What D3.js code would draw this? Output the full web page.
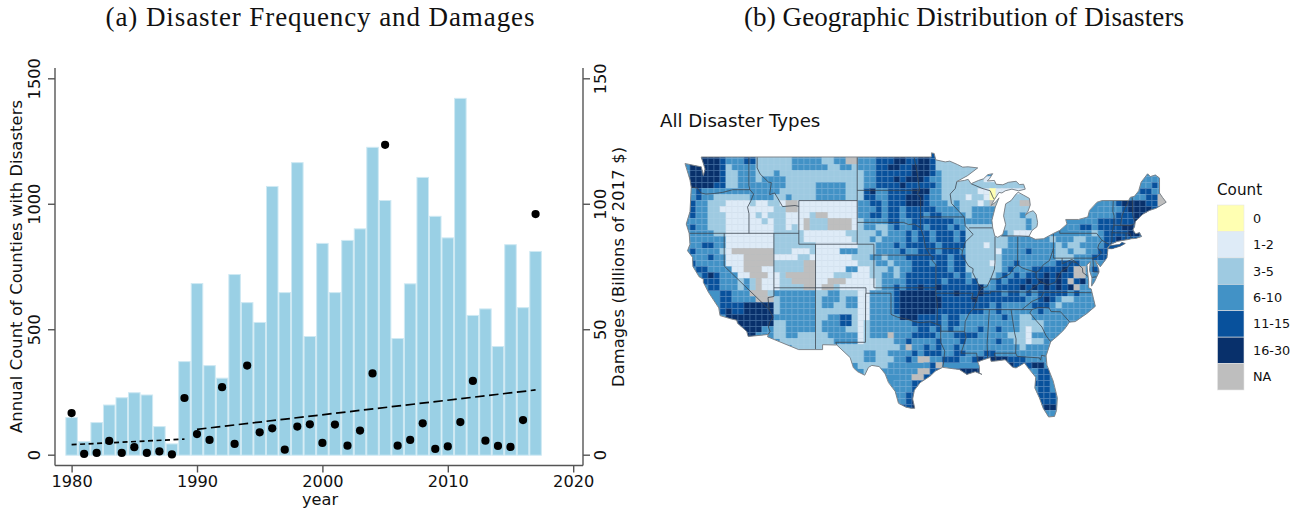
<!DOCTYPE html>
<html><head><meta charset="utf-8">
<script src="https://cdnjs.cloudflare.com/ajax/libs/d3/7.8.5/d3.min.js"></script>
<style>html,body{margin:0;background:#fff}svg{display:block}text{font-family:"DejaVu Sans",sans-serif;fill:#111}</style>
</head><body><svg id="c" width="1302" height="514"></svg>
<script>
const years=d3.range(1980,2018);
const counties=[148,52,128,198,227,247,238,112,43,371,682,355,305,718,606,527,1069,646,1164,471,842,646,854,900,1225,1013,463,681,1105,950,864,1420,555,581,431,837,586,810];
const damages=[16.6,0.3,0.7,5.5,0.7,3,0.7,1.3,0.1,22.6,8.2,5.9,26.9,4.3,35.5,8.9,10.5,2,11.2,12.1,4.7,12,3.6,9.6,32.4,123.5,3.6,5.9,12.5,2.3,3.3,13,29.4,5.6,3.5,3.1,13.8,95.9];
const trendEarly=[[1980,4],[1989,6.2]];
const trendLate=[[1990,10.1],[2017,25.8]];
const xTicks=[1980,1990,2000,2010,2020];
const countTicks=[0,500,1000,1500];
const damageTicks=[0,50,100,150];
const legendLabels=["0","1-2","3-5","6-10","11-15","16-30","NA"];
const legendKeys=["0","1","2","3","4","5","N"];
const legendColors=["#FFFFB2","#DEEBF7","#9ECAE1","#4292C6","#08519C","#08306B","#BEBEBE"];

// Lon/lat outline of the lower 48
const outline=[[-124.7,48.4],[-123.1,48.15],[-122.75,48.1],[-122.5,47.3],[-122.3,47.9],[-122.5,48.4],[-122.76,49],[-95.15,49],[-95.15,49.38],[-94.82,49.32],[-94.64,48.74],[-93.5,48.55],[-92.95,48.62],[-92,48.3],[-91.4,48.07],[-90.75,48.1],[-89.6,48],[-90.8,47.3],[-92.1,46.75],[-91.2,46.85],[-90.75,46.95],[-90.4,46.55],[-89.5,46.85],[-88.9,47],[-88.4,47.38],[-87.8,47.47],[-88.2,47],[-88.45,46.8],[-87.6,46.85],[-87.4,46.5],[-86.6,46.45],[-85.9,46.68],[-85,46.77],[-84.6,46.47],[-84.1,46.5],[-83.9,46.05],[-84.7,45.9],[-85.5,46.05],[-86.3,45.9],[-86.7,45.7],[-87.05,45.75],[-87.6,45.1],[-88,44.55],[-87.4,44.9],[-87.05,45.25],[-87.5,44.4],[-87.9,43.2],[-87.8,42.5],[-87.55,41.75],[-87.2,41.63],[-86.6,41.9],[-86.25,42.8],[-86.5,43.6],[-86.25,44.7],[-85.6,45],[-85,45.6],[-84.75,45.77],[-84.1,45.5],[-83.4,45.2],[-83.3,44.6],[-83.55,44.05],[-83.9,43.65],[-83.4,43.95],[-82.95,44.07],[-82.6,43.75],[-82.42,43],[-82.5,42.6],[-83.1,42.25],[-83.45,41.72],[-82.7,41.45],[-81.7,41.5],[-80.5,42],[-79.76,42.27],[-78.9,42.85],[-79.05,43.27],[-77.5,43.27],[-76.4,43.5],[-76.2,44.1],[-75.3,44.85],[-74.7,45],[-71.5,45.01],[-71.3,45.3],[-70.8,45.4],[-70.3,45.9],[-70,46.7],[-69.23,47.46],[-68.9,47.2],[-68.3,47.35],[-67.8,47.07],[-67.8,45.7],[-67.45,45.3],[-67,44.85],[-68.2,44.3],[-69,44.1],[-69.8,43.75],[-70.7,43.07],[-70.8,42.6],[-71,42.3],[-70.65,41.95],[-70.2,42.07],[-69.95,41.7],[-70.65,41.53],[-71.2,41.5],[-71.4,41.45],[-72.9,41.25],[-73.65,40.98],[-74,40.7],[-74,40.45],[-74.1,39.75],[-74.9,38.93],[-75.5,39.5],[-75.1,38.75],[-75.05,38.45],[-75.6,37.55],[-75.95,37.15],[-75.9,37.9],[-76.2,38.6],[-76.1,39.4],[-76.5,39.1],[-76.4,38.3],[-76.3,37.6],[-76.3,37],[-76,36.9],[-75.5,35.3],[-76.5,34.65],[-77.9,33.9],[-78.6,33.85],[-79.2,33.2],[-80,32.6],[-80.85,32.05],[-81.4,30.75],[-81.3,29.9],[-80.55,28.45],[-80.05,26.9],[-80.15,25.75],[-80.4,25.2],[-81.1,25.15],[-81.75,25.95],[-82.2,26.9],[-82.75,27.8],[-82.65,28.8],[-83.4,29.5],[-84,30.1],[-85,29.65],[-85.4,29.7],[-86.3,30.4],[-87.5,30.28],[-88,30.25],[-88.1,30.6],[-88.9,30.4],[-89.6,30.2],[-89.4,29.8],[-89.4,29.2],[-89.1,29.05],[-89.9,29.3],[-90.9,29.05],[-91.8,29.5],[-92.3,29.55],[-93.8,29.7],[-94.7,29.35],[-95.3,28.9],[-96.5,28.3],[-97.2,27.6],[-97.4,26.8],[-97.15,25.95],[-97.6,25.95],[-98.2,26.05],[-99.1,26.4],[-99.5,27.5],[-100.3,28.3],[-100.7,29.1],[-101.4,29.77],[-102.3,29.88],[-102.7,29.7],[-103.15,28.98],[-104,29.3],[-104.5,29.65],[-104.9,30.6],[-106.5,31.75],[-108.2,31.78],[-108.2,31.33],[-111.07,31.33],[-114.8,32.5],[-114.72,32.72],[-117.12,32.53],[-117.3,33],[-118.4,33.75],[-118.5,34.03],[-119.2,34.15],[-120.5,34.45],[-120.65,35.15],[-121.9,36.6],[-122.5,37.5],[-122.5,37.8],[-123,38],[-123.75,38.95],[-123.8,39.8],[-124.4,40.4],[-124.1,41],[-124.2,42],[-124.55,42.85],[-124.1,44],[-123.95,46.2],[-124.1,46.9],[-124.7,48.4]];
const longIsland=[[-74,40.6],[-73.7,40.87],[-72.6,40.98],[-72.3,41.15],[-71.9,41.07],[-72.5,40.82],[-73.5,40.58]];
const stateBorders=[
[[-124,46.25],[-123.2,46.15],[-122.8,45.7],[-122.2,45.6],[-121.2,45.65],[-120.2,45.75],[-119.3,45.93],[-119,46],[-116.92,46]],
[[-117.04,49],[-117.04,46.4],[-116.92,46],[-116.47,45.6],[-116.85,44.9],[-117.2,44.4],[-117.03,43.8],[-117.03,42]],
[[-116.05,49],[-116.05,48],[-115.7,47.45],[-114.7,46.7],[-114.35,46.65],[-114.55,45.55],[-113.95,45.7],[-113.45,45.05],[-113,44.45],[-111.5,44.55],[-111.05,44.47]],
[[-111.05,45],[-104.05,45]],[[-111.05,45],[-111.05,41],[-109.05,41]],[[-124.2,42],[-111.05,42]],
[[-114.04,42],[-114.04,36.2],[-114.75,36.1],[-114.6,35],[-114.15,34.3],[-114.5,33.9],[-114.7,33.4],[-114.5,33],[-114.72,32.72]],
[[-120,42],[-120,39],[-114.6,35]],[[-114.04,37],[-103,37]],[[-109.05,41],[-109.05,31.33]],[[-109.05,41],[-102.05,41]],[[-104.05,49],[-104.05,41]],
[[-102.05,41],[-102.05,37]],[[-102.05,40],[-95.3,40]],[[-102.05,37],[-94.62,37]],[[-103,37],[-103,36.5],[-100,36.5],[-100,34.56],[-99.2,34.3],[-98.1,34.13],[-97.2,33.9],[-96.5,33.8],[-95.3,33.88],[-94.48,33.64]],
[[-103.04,36.5],[-103.06,32],[-106.62,32],[-106.5,31.75]],[[-104.05,45.94],[-96.56,45.94]],[[-104.05,43],[-98.5,43],[-97.9,42.8],[-97.2,42.85],[-96.45,42.49]],
[[-97.23,49],[-96.85,47.5],[-96.56,45.94],[-96.85,45.6],[-96.45,45.3],[-96.45,42.49],[-96.1,41.7],[-95.85,40.7],[-95.77,40.58],[-95.3,40],[-94.9,39.8],[-95.1,39.55],[-94.61,39.1],[-94.62,36.5],[-94.43,35.4],[-94.48,33.64],[-94.04,33.55],[-94.04,31.99],[-93.55,31.2],[-93.7,30.1],[-93.8,29.7]],
[[-96.45,43.5],[-91.22,43.5]],[[-95.77,40.58],[-91.73,40.6],[-91.42,40.38]],[[-94.62,36.5],[-90.15,36.5],[-90.35,36],[-89.7,36]],[[-94.04,33.02],[-91.17,33]],
[[-91.17,33],[-91,32.4],[-91.6,31],[-89.73,31],[-89.6,30.2]],
[[-92.1,46.75],[-92.3,46.1],[-92.9,45.6],[-92.75,44.75],[-91.22,43.5],[-91.1,42.7],[-90.15,41.9],[-91.1,41.2],[-91.42,40.38],[-91.5,40],[-90.7,39],[-90.15,38.75],[-90.2,38.4],[-89.5,37.3],[-89.13,37],[-89.5,36.5],[-89.7,36],[-90.1,35.1],[-90.6,34.7],[-91.1,33.9],[-91.17,33]],
[[-90.64,42.5],[-87.8,42.5]],[[-90.4,46.55],[-89.1,46.13],[-88.1,45.9],[-87.8,45.35],[-87.6,45.1]],[[-87.53,41.7],[-87.53,39.3],[-87.6,38.7],[-88.05,37.8]],
[[-89.13,37],[-88.5,37.1],[-88.05,37.8],[-87.1,37.8],[-86.5,38],[-85.75,38.27],[-85.4,38.7],[-84.82,39.1],[-84.2,38.8],[-83.6,38.65],[-82.6,38.42],[-82.2,38.6],[-81.75,39.1],[-81,39.5],[-80.6,40.4],[-80.52,40.64]],
[[-84.82,39.1],[-84.8,41.7]],[[-86.8,41.76],[-84.8,41.76],[-83.45,41.72]],[[-80.52,41.98],[-80.52,39.72],[-75.79,39.72]],[[-79.76,42.27],[-79.76,42],[-75.35,42],[-74.7,41.36],[-75.1,40.95],[-75.2,40.65],[-74.75,40.2],[-75.4,39.8]],
[[-74.7,41.36],[-73.9,41]],[[-73.65,41],[-73.5,41.3],[-73.5,42.05],[-73.27,42.75],[-73.25,43.6],[-73.4,44],[-73.35,45]],[[-73.5,42.05],[-71.38,42.02],[-71.15,41.5]],[[-71.8,42.02],[-71.85,41.32]],
[[-73.27,42.75],[-71.3,42.7],[-70.82,42.87]],[[-72.46,42.73],[-72.3,43.6],[-72.05,44.1],[-71.5,45.01]],[[-71.08,45.3],[-71,43.6],[-70.7,43.07]],
[[-75.79,39.72],[-75.4,39.8]],[[-75.79,39.72],[-75.7,38.46],[-75.05,38.45]],[[-75.9,37.95],[-75.25,38.03]],
[[-76.3,38],[-77,38.4],[-77.04,38.8],[-77.5,39.1],[-77.75,39.3],[-78.3,39.6],[-79.48,39.2],[-79.48,39.72]],[[-77.75,39.3],[-78.35,39.4],[-78.9,38.8],[-79.6,38.5],[-80.3,37.5],[-81.2,37.25],[-81.97,37.54]],
[[-82.6,38.42],[-82.6,37.9],[-81.97,37.54],[-83.68,36.6]],[[-75.87,36.55],[-81.68,36.59],[-83.68,36.6],[-88.07,36.65],[-88.07,36.5],[-89.5,36.5]],
[[-81.68,36.59],[-82,36.1],[-83.1,35.75],[-84.32,34.99]],[[-90.1,35],[-83.1,35]],[[-83.1,35],[-82.3,35.2],[-81.05,35.15],[-80.8,34.82],[-79.67,34.8],[-78.55,33.85]],
[[-83.1,35],[-83.35,34.7],[-82.6,34],[-81.9,33.4],[-81.4,32.6],[-80.85,32.05]],[[-85.6,35],[-85.18,32.87],[-85,32.3],[-85.05,31],[-84.86,30.7],[-82.2,30.57],[-82.05,30.36],[-81.95,30.8],[-81.45,30.72]],
[[-87.6,31],[-85,31]],[[-87.6,31],[-87.45,30.35]],[[-88.2,35],[-88.47,31.9],[-88.4,30.25]]
];

// Count class per grid cell. Each block holds ten cells; N is no data.
const gridRows=[
"..55554333 4422222233 3332233NN3 3344455445 5422222222",
"..55554333 4422222233 3332233NN3 3344455445 5422222222",
".555554233 3322222233 3333223323 3344554455 5422222222",
"3555554223 3322232222 2222222222 3344444455 5432222222 .......... .......... .......333",
"5555554223 3323333222 2222222222 3344454555 4332222222 1122222222 .......... .......333",
"4555544223 3333333222 2233333222 3344445444 4432222222 2222222222 .......... ......3343",
"3343333333 3333332222 2233333222 4533444455 5332222221 1011111122 .......... ......4433",
"3343322222 2333322322 2233333222 4433444555 4332222122 1011222222 .......... .....3344N N",
"3433222111 1211221NN1 1111111113 3443444555 4333232221 2N2222NNN2 .......... 334555544N N",
"3433221111 1111122NN1 1111111113 3343443444 4433332233 3332222222 .........3 3334555544",
"3433222111 1121222111 12NN111113 3443443444 3443333233 3332223222 .......333 3344455544",
"3333222111 1112122111 N222NNNN12 3333443344 4444433333 3322222322 .......334 4444455443",
"3433222111 1111122121 N222NNNN12 3322343344 3444343222 2222222322 22..334434 4445544443",
"3333322111 1111122222 1111111222 2232333434 4344434222 2223211122 2.....3323 4444554443",
"3333333111 1111122222 1111111122 2323333434 4344434222 2222333333 3233322333 4454443...",
"3334433111 1111122222 2211111112 2233343444 4434444222 1222333333 3323223333 44544.....",
"34333321NN NNNNN22211 1211113332 2233334334 4434443222 2213333433 3322322334 454.......",
"3333433111 NNNNN11112 2111111122 2332333444 4444344222 2223333333 3322233344 444.......",
".433333111 NNNNN22222 NN11111112 2233233344 4344344222 2123343333 3344443333 43........",
"..44333311 NNN1122222 NN11111331 1222323344 4444344222 2223433344 44454NN344 33........",
"...4543331 1NNN112NNN NN11122211 1223323444 4444434322 2234343444 54544NN334 43........",
"...4443332 32N11122NN NN11NNN111 1123333444 4443444342 2343444545 5454N45334 3.........",
"....443332 32N1112222 NN1NN21111 1123343445 4454444445 3344445454 54545N3334 33........",
"......4433 3NNN233333 3322332221 1333345555 5544454445 4443443434 4444343333 3.........",
"......4433 33NNN23333 3323332331 1333345555 5554444454 4444444334 5432233333 33333.....",
"......4444 5555523333 3323322331 1333345555 5554444444 4343333344 4323333333 33333333..",
"......4544 5555523333 3322222221 1333345555 5544444444 3343333334 3333333333 33333.....",
".......555 5555533333 3322334421 1333335554 4443443333 3334332233 3333333333",
"........55 5555522333 3323334421 2333333344 4443443333 3333332222 3333333333",
".........5 5553322333 3323333221 2333333334 4343433334 3343332122 3333333...",
".......... 5533322332 2222333331 2333N33344 4433344443 3333222133 33334.....",
".......... ......2222 2222233331 2222233433 3343334333 3343322122 3323......",
".......... ........22 2222222222 2222223N33 4343343333 3333332333 333.......",
".......... .......... ......2222 3322333343 4443344333 4433333333 33........",
".......... .......... .......222 332223343N N334443345 4555444333 3.........",
".......... .......... .........2 2222333 34N N444544455 ......4334 3.........",
".......... .......... .......... 223333333N N444445555 ........34 4.........",
".......... .......... .......... ......33NN 44....5555 ........34 4.........",
".......... .......... .......... .....33344 .......... ........44 4.........",
".......... .......... .......... .....33345 .......... ........34 4.........",
".......... .......... .......... .....33445 .......... ........34 44........",
".......... .......... .......... ......3455 .......... .........4 44........",
".......... .......... .......... ......4455 .......... .........4 55........",
".......... .......... .......... .......... .......... .........3 33........",
".......... .......... .......... .......... .......... .........3 33........"
];

const svg=d3.select("#c");
// ---------- panel (a)
const x=d3.scaleLinear().domain([1980,2020]).range([71.6,573.2]);
const yC=d3.scaleLinear().domain([0,1500]).range([454.7,78.3]);
const yD=d3.scaleLinear().domain([0,150]).range([454.7,78.3]);
const axisCol="#555";
const A=svg.append("g");
const bw=x(1981)-x(1980);
A.selectAll("rect").data(years).join("rect")
 .attr("x",d=>x(d)-bw/2+.5).attr("width",bw-1)
 .attr("y",(d,i)=>yC(counties[i])).attr("height",(d,i)=>yC(0)-yC(counties[i])+.5)
 .attr("fill","#9AD0E5").attr("stroke","#cfe9f3").attr("stroke-width",1);
const ln=d3.line().x(d=>x(d[0])).y(d=>yD(d[1]));
A.append("path").attr("d",ln(trendEarly)).attr("fill","none").attr("stroke","#000").attr("stroke-width",1.7).attr("stroke-dasharray","5 3.5");
A.append("path").attr("d",ln(trendLate)).attr("fill","none").attr("stroke","#000").attr("stroke-width",1.7).attr("stroke-dasharray","9.5 4.5");
A.selectAll("circle").data(years).join("circle").attr("cx",d=>x(d)).attr("cy",(d,i)=>yD(damages[i])).attr("r",4.1).attr("fill","#000");

function styleAxis(g){g.selectAll("path,line").attr("stroke",axisCol).attr("stroke-width",1.4);
 g.selectAll("text").attr("font-size",16.2).attr("fill","#111");}
const gx=svg.append("g").attr("transform","translate(0,465.5)").call(d3.axisBottom(x.copy().domain([1980,2020])).tickValues(xTicks).tickFormat(d3.format("d")).tickSize(7).tickSizeOuter(0));
gx.attr("font-family",null);gx.select(".domain").attr("d","M55,0H583");styleAxis(gx);gx.selectAll("text").attr("y",0).attr("dy",0).attr("transform","translate(0,21.5)");
const gl=svg.append("g").attr("transform","translate(55,0)").call(d3.axisLeft(yC).tickValues(countTicks).tickSize(7).tickFormat(d3.format("d")));
gl.select(".domain").attr("d","M0,68V465.5");styleAxis(gl);
gl.selectAll("text").attr("x",0).attr("dy",0).attr("text-anchor","middle").attr("transform","translate(-15,0) rotate(-90)");
const gr=svg.append("g").attr("transform","translate(583,0)").call(d3.axisRight(yD).tickValues(damageTicks).tickSize(7).tickFormat(d3.format("d")));
gr.select(".domain").attr("d","M0,68V465.5");styleAxis(gr);
gr.selectAll("text").attr("x",0).attr("dy",0).attr("text-anchor","middle").attr("transform","translate(23,0) rotate(-90)");
function t(s,px,py,size,opt={}){const e=svg.append("text").text(s).attr("font-size",size).attr("text-anchor",opt.a||"start");
 e.attr("transform",`translate(${px},${py})`+(opt.r?` rotate(${opt.r})`:""));
 if(opt.f)e.style("font-family",opt.f);if(opt.w)e.attr("textLength",opt.w).attr("lengthAdjust","spacing");return e;}
t("year",320,505,16.2,{a:"middle"});
t("Annual Count of Counties with Disasters",22,266.5,16.2,{a:"middle",r:-90,w:333});
t("Damages (Billions of 2017 $)",624,267,16.2,{a:"middle",r:-90,w:240});
const serif='"Liberation Serif",serif';
t("(a) Disaster Frequency and Damages",320,26,27,{a:"middle",f:serif,w:429});
t("(b) Geographic Distribution of Disasters",964,26,27,{a:"middle",f:serif,w:440});

// ---------- panel (b)
const lon=d3.scaleLinear().domain([-124.7,-67]).range([685,1166.2]);
const lat=d3.scaleLinear().domain([49,25.1]).range([157,417.5]);
const cellLon=0.7194,cellLat=0.5505,lon0=-124.82,lat0=49.4;
const geo=d3.line().x(d=>lon(d[0])).y(d=>lat(d[1]));
const colorOf=d3.scaleOrdinal().domain(legendKeys).range(legendColors);
const cid="usclip";
svg.append("defs").append("clipPath").attr("id",cid).selectAll("path").data([outline,longIsland]).join("path").attr("d",d=>geo(d)+"Z");
const M=svg.append("g").attr("clip-path",`url(#${cid})`);
M.append("path").attr("d",geo(outline)+"Z").attr("fill","#4292C6");
const cells=[];
gridRows.forEach((row,r)=>row.split(" ").forEach((blk,b)=>[...blk].forEach((ch,i)=>{if(ch!==".")cells.push({r,c:b*10+i,ch});})));
// county-like hairlines only where the reference shows them; light classes blend into themselves
const edge={"0":"#FFFFB2","1":"#d6e3ef","2":"#a6cee4","3":"#6ea9d3","4":"#4f82b8","5":"#3f679a","N":"#BEBEBE"};
M.selectAll("rect").data(cells).join("rect")
 .attr("x",d=>lon(lon0+d.c*cellLon)).attr("y",d=>lat(lat0-d.r*cellLat))
 .attr("width",d=>lon(lon0+(d.c+1)*cellLon)-lon(lon0+d.c*cellLon))
 .attr("height",d=>lat(lat0-(d.r+1)*cellLat)-lat(lat0-d.r*cellLat))
 .attr("fill",d=>colorOf(d.ch))
 .attr("stroke",d=>edge[d.ch]).attr("stroke-width",.7);
svg.append("path").attr("d",geo(longIsland)+"Z").attr("fill","#08519C").attr("stroke","#777").attr("stroke-width",.7);
svg.append("g").selectAll("path").data(stateBorders).join("path").attr("d",geo).attr("fill","none").attr("stroke","#3d4650").attr("stroke-width",.8).attr("clip-path",`url(#${cid})`);
svg.append("path").attr("d",geo(outline)+"Z").attr("fill","none").attr("stroke","#80868c").attr("stroke-width",1);

t("All Disaster Types",660,127,18.2);
t("Count",1217,195,15.2);
const ly=d3.scaleBand().domain(legendLabels).range([205,390]);
const L=svg.append("g");
L.selectAll("rect").data(legendLabels).join("rect").attr("x",1217.5).attr("width",26.5).attr("y",d=>ly(d)).attr("height",ly.bandwidth())
 .attr("fill",(d,i)=>legendColors[i]).attr("stroke","#e6e6e6").attr("stroke-width",.6);
L.selectAll("text").data(legendLabels).join("text").attr("x",1253).attr("y",d=>ly(d)+ly.bandwidth()/2+4.5).attr("font-size",12.8).text(d=>d);
</script></body></html>
